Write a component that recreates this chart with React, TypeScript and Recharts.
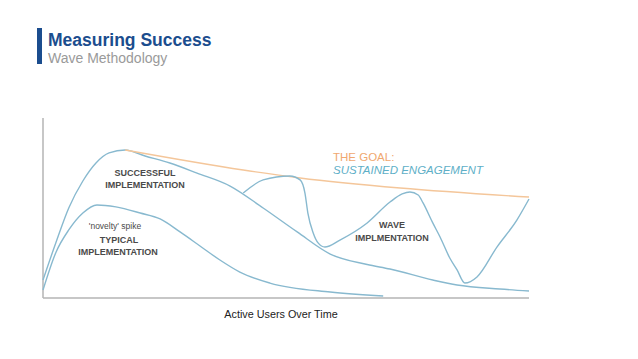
import React from "react";
import { LineChart, Line, XAxis, YAxis, ReferenceLine } from "recharts";

// time runs 0..100 along the axis, active users 0..100 up the axis
const typical = [
  { x: 0, y: 4.4 },
  { x: 2.7, y: 25.6 },
  { x: 5.3, y: 37.8 },
  { x: 8.2, y: 47.2 },
  { x: 11.1, y: 51.7 },
  { x: 15.0, y: 50.6 },
  { x: 20.0, y: 47.2 },
  { x: 24.1, y: 43.9 },
  { x: 28.2, y: 36.7 },
  { x: 32.3, y: 28.9 },
  { x: 36.4, y: 21.1 },
  { x: 40.5, y: 14.4 },
  { x: 46.7, y: 8.3 },
  { x: 59.1, y: 3.3 },
  { x: 70.0, y: 1.1 },
];

const successful = [
  { x: 0, y: 10 },
  { x: 2.7, y: 31.1 },
  { x: 5.3, y: 50 },
  { x: 8.2, y: 65 },
  { x: 10.9, y: 75 },
  { x: 13.6, y: 80.6 },
  { x: 16.9, y: 82.2 },
  { x: 21.0, y: 78.9 },
  { x: 26.1, y: 75 },
  { x: 31.7, y: 69.4 },
  { x: 38.5, y: 62.2 },
  { x: 45.3, y: 50 },
  { x: 52.3, y: 36.7 },
  { x: 59.1, y: 24.4 },
  { x: 66.7, y: 18.6 },
  { x: 71.4, y: 16.1 },
  { x: 80.2, y: 10 },
  { x: 85.2, y: 7.2 },
  { x: 94.0, y: 5 },
  { x: 100, y: 3.9 },
];

const goal = [
  { x: 16.9, y: 82.2 },
  { x: 41.2, y: 71.1 },
  { x: 52.9, y: 66.7 },
  { x: 73.5, y: 61.1 },
  { x: 100, y: 56.1 },
];

const wave = [
  { x: 41.2, y: 58.3 },
  { x: 45.3, y: 65.6 },
  { x: 50.8, y: 67.8 },
  { x: 52.9, y: 65.6 },
  { x: 53.9, y: 58.3 },
  { x: 54.5, y: 47.2 },
  { x: 55.6, y: 36.1 },
  { x: 56.6, y: 30.6 },
  { x: 58.0, y: 28.3 },
  { x: 61.1, y: 32.2 },
  { x: 66.7, y: 41.7 },
  { x: 71.4, y: 53.3 },
  { x: 73.9, y: 57.8 },
  { x: 75.5, y: 58.9 },
  { x: 77.2, y: 57.2 },
  { x: 78.2, y: 52.8 },
  { x: 80.2, y: 41.7 },
  { x: 81.7, y: 33.9 },
  { x: 83.7, y: 22.2 },
  { x: 85.2, y: 15.6 },
  { x: 86.8, y: 8.3 },
  { x: 89.3, y: 11.7 },
  { x: 93.4, y: 28.3 },
  { x: 97.5, y: 43.3 },
  { x: 100, y: 55 },
];

const BLUE = "#88b9cf";
const ORANGE = "#f4c69a";
const LABEL = "#4a4a4a";

export default function App() {
  return (
    <div
      style={{
        position: "absolute",
        left: 0,
        top: 0,
        width: 638,
        height: 359,
        background: "#fff",
        fontFamily: "'Liberation Sans', Arial, sans-serif",
      }}
    >
      <LineChart
        width={638}
        height={359}
        margin={{ top: 118, right: 109, bottom: 61, left: 43 }}
      >
        <XAxis type="number" dataKey="x" domain={[0, 100]} hide />
        <YAxis type="number" domain={[0, 100]} hide />
        <ReferenceLine x={0} stroke="#b5b5b5" strokeWidth={1.5} />
        <ReferenceLine y={0} stroke="#b5b5b5" strokeWidth={1.5} />
        <Line data={typical} dataKey="y" type="monotone" stroke={BLUE} strokeWidth={1.4} dot={false} isAnimationActive={false} />
        <Line data={successful} dataKey="y" type="monotone" stroke={BLUE} strokeWidth={1.4} dot={false} isAnimationActive={false} />
        <Line data={goal} dataKey="y" type="monotone" stroke={ORANGE} strokeWidth={1.4} dot={false} isAnimationActive={false} />
        <Line data={wave} dataKey="y" type="monotone" stroke={BLUE} strokeWidth={1.4} dot={false} isAnimationActive={false} />
      </LineChart>

      <svg
        width={638}
        height={359}
        style={{ position: "absolute", left: 0, top: 0, pointerEvents: "none" }}
      >
        <rect x={37} y={28} width={5} height={36} fill="#1b4d8e" />
        <text x={48} y={46} fontSize={17.5} fontWeight="bold" fill="#1b4d8e">
          Measuring Success
        </text>
        <text x={48} y={63} fontSize={14} fill="#9a9a9a">
          Wave Methodology
        </text>

        <g fontSize={9} fontWeight="bold" fill={LABEL} textAnchor="middle">
          <text x={145} y={176}>SUCCESSFUL</text>
          <text x={145} y={188}>IMPLEMENTATION</text>
          <text x={119} y={243}>TYPICAL</text>
          <text x={118} y={255}>IMPLEMENTATION</text>
          <text x={392} y={228}>WAVE</text>
          <text x={392} y={241}>IMPLMENTATION</text>
        </g>
        <text x={115} y={229} fontSize={8.5} fill={LABEL} textAnchor="middle">
          'novelty' spike
        </text>

        <text x={333} y={161} fontSize={11.5} fill="#f0a870">
          THE GOAL:
        </text>
        <text x={333} y={174} fontSize={11.5} fontStyle="italic" fill="#5eafc7">
          SUSTAINED ENGAGEMENT
        </text>

        <text x={281} y={318} fontSize={10.8} fill="#222" textAnchor="middle">
          Active Users Over Time
        </text>
      </svg>
    </div>
  );
}
